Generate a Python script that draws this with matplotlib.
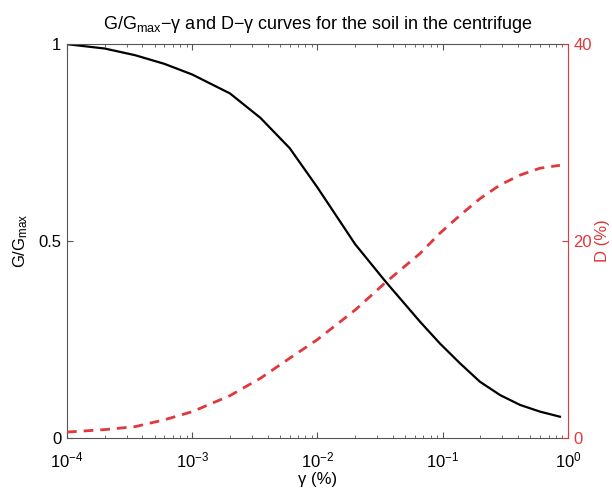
import matplotlib
matplotlib.use("Agg")
import matplotlib.pyplot as plt
from matplotlib.ticker import LogLocator, NullFormatter

plt.rcParams['font.family'] = ['Liberation Sans', 'DejaVu Sans']
plt.rcParams['mathtext.fontset'] = 'custom'
plt.rcParams['mathtext.rm'] = 'Liberation Sans'
plt.rcParams['mathtext.it'] = 'Liberation Sans'
plt.rcParams['mathtext.default'] = 'regular'

gamma = [1e-4, 2e-4, 3.5e-4, 6e-4, 1e-3, 2e-3, 3.5e-3, 6e-3, 1e-2, 2e-2,
         3.5e-2, 6.6e-2, 9.5e-2, 0.137, 0.198, 0.287, 0.414, 0.597, 0.863]
g_ratio = [1.0, 0.989, 0.972, 0.95, 0.923, 0.875, 0.813, 0.736, 0.636, 0.492,
           0.397, 0.295, 0.240, 0.190, 0.143, 0.109, 0.084, 0.067, 0.054]
damping = [0.6, 0.85, 1.15, 1.85, 2.67, 4.3, 6.06, 8.1, 10.0, 13.0,
           15.8, 18.75, 20.8, 22.6, 24.3, 25.7, 26.7, 27.4, 27.7]

red = '#e0383c'
gray = '#555555'

fig = plt.figure(figsize=(6.12, 4.91), dpi=100)
ax = fig.add_axes([0.1095, 0.108, 0.8185, 0.802])
ax.plot(gamma, g_ratio, color='black', lw=1.6)
ax.set_xscale('log')
ax.set_xlim(1e-4, 1)
ax.set_ylim(0, 1)
ax.set_yticks([0, 0.5, 1])
ax.set_yticklabels(['0', '0.5', '1'])
ax.xaxis.set_major_locator(LogLocator(base=10, numticks=10))
ax.xaxis.set_minor_locator(LogLocator(base=10, subs=range(2, 10), numticks=20))
ax.xaxis.set_minor_formatter(NullFormatter())
ax.tick_params(axis='both', which='both', direction='in', top=True, labelsize=12,
               color=gray)
ax.tick_params(axis='x', which='major', length=4, pad=9)
ax.tick_params(axis='x', which='minor', length=2.5)
ax.tick_params(axis='y', which='major', length=4, right=False, pad=4)
for s in ['left', 'bottom', 'top']:
    ax.spines[s].set_color(gray)
ax.spines['right'].set_visible(False)
ax.set_xlabel('γ (%)', fontsize=12, labelpad=1)
ax.set_ylabel('G/G$_{max}$', fontsize=12, labelpad=6)
ax.set_title('G/G$_{max}$−γ and D−γ curves for the soil in the centrifuge',
             fontsize=13, pad=11)

ax2 = ax.twinx()
ax2.plot(gamma, damping, color=red, lw=2, linestyle=(0, (3.5, 2.5)))
ax2.set_ylim(0, 40)
ax2.set_yticks([0, 20, 40])
ax2.tick_params(axis='y', direction='in', length=4, colors=red, labelsize=12, pad=4)
for s in ['left', 'bottom', 'top']:
    ax2.spines[s].set_visible(False)
ax2.spines['right'].set_color(red)
ax2.set_ylabel('D (%)', fontsize=12, color=red, labelpad=2)

fig.savefig('out.png', dpi=100)
